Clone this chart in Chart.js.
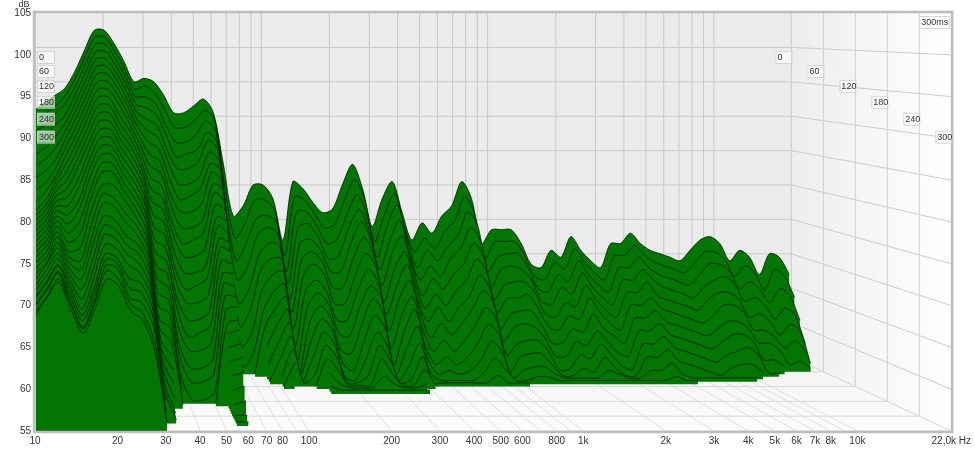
<!DOCTYPE html>
<html>
<head>
<meta charset="utf-8">
<title>Waterfall</title>
<script src="https://cdn.jsdelivr.net/npm/chart.js@4"></script>
<style>
  html, body { margin: 0; padding: 0; background: #fff; }
  canvas { display: block; }
</style>
</head>
<body>
<canvas id="chart" width="975" height="450"></canvas>
<script>
const _ = null

const xTicks = [10, 20, 30, 40, 50, 60, 70, 80, 100, 200, 300, 400, 500, 600, 800, 1000, 2000, 3000, 4000, 5000, 6000, 7000, 8000, 10000, 22000]
const xTickLabels = ["10", "20", "30", "40", "50", "60", "70", "80", "100", "200", "300", "400", "500", "600", "800", "1k", "2k", "3k", "4k", "5k", "6k", "7k", "8k", "10k", "22,0k Hz"]
const backGrid = [10, 20, 30, 40, 50, 60, 70, 80, 90, 100, 200, 300, 400, 500, 600, 700, 800, 900, 1000, 2000, 3000, 4000, 5000, 6000, 7000, 8000, 9000, 10000]
const dbLines = [100, 95, 90, 85, 80, 75, 70, 65, 60]
const timeLabels = [0, 60, 120, 180, 240, 300]

const freqs = [10, 11.1, 12.2, 13.5, 15, 16.5, 18.3, 20.2, 22.4, 24.7,
  27.4, 30.3, 33.5, 37.1, 41, 45.4, 50.2, 55.5, 61.4, 68,
  75.2, 83.2, 92, 101.8, 112.6, 124.6, 137.8, 152.5, 168.7, 186.6,
  206, 228, 253, 280, 309, 342, 379, 419, 463, 513,
  567, 627, 694, 768, 849, 940, 1040, 1150, 1272, 1407,
  1557, 1722, 1905, 2108, 2332, 2580, 2854, 3157, 3493, 3864,
  4275, 4729, 5232, 5788, 6403, 7084, 7837, 8670, 9591, 10611,
  11739, 12987, 14367, 15894, 17583, 19452, 21520]

const times = [0, 10, 20, 30, 40, 50, 60, 70, 80, 90, 100, 110, 120, 130, 140, 150, 160, 170, 180, 190, 200, 210, 220, 230, 240, 250, 260, 270, 280, 290, 300]

// dB per frequency, one list per time slice
const s000 = [91, 92, 93, 94, 96.5, 99.5, 102.5, 102.5, 100.5, 98, 95, 95.5, 95, 93, 90.5, 90.5, 91.5, 92.5, 90.5, 83, 75.5, 77, 80, 80, 78, 72, 80.5, 79.5, 77.5, 76, 76.5, 80, 83, 79.5, 74, 78, 80.5, 76, 72, 74.5, 73, 75.5, 77, 80.5, 78, 71.5, 73.5, 73.5, 73.5, 71.5, 68.5, 68, 70.5, 69.5, 72.5, 70.5, 69, 68, 71.5, 71.5, 73, 71.5, 70.5, 70, 69.5, 69, 70.5, 72, 72.5, 71.5, 69, 70.5, 69.5, 67, 70, 69.5, 67]
const s010 = [89.5, 90.5, 91.5, 93, 95.5, 98.5, 101.5, 101.5, 99.5, 97, 94, 94.5, 93.5, 91, 88.5, 88.5, 89.5, 91, 89.5, 80, 72.5, 74.5, 78, 78, 76.5, 70, 78.5, 78, 76, 74, 74.5, 78, 81, 78, 72, 76, 79, 74, 70.5, 72.5, 71, 73.5, 75, 78.5, 76, 69.5, 72, 72, 72, 70, 67, 66.5, 69, 68, 71, 69, 67.5, 66.5, 70, 70, 71.5, 70, 69, 68.5, 68, 67.5, 69, 70.5, 70.5, 69.5, 67, 68.5, 67.5, 65, 68, 67, 64]
const s020 = [88, 89, 90.5, 92, 94.5, 97.5, 100.5, 100.5, 98.5, 96, 93, 93, 92, 89, 86.5, 86.5, 87.5, 89.5, 88, 77, 69.5, 72, 75.5, 76, 75, 68, 76.5, 76.5, 74.5, 72, 72.5, 76, 79, 76, 70, 74.5, 77.5, 72.5, 68.5, 71, 69.5, 71.5, 73, 76.5, 74.5, 68, 70, 70.5, 70.5, 68.5, 65.5, 65, 67.5, 66.5, 69.5, 67.5, 66, 65, 68.5, 68.5, 70, 68.5, 67.5, 67, 66.5, 66, 67.5, 69, 69, 68, 65.5, 66.5, 65.5, 63.5, 65.5, 64.5, 61]
const s030 = [86.5, 87.5, 89, 90.5, 93.5, 96.5, 99.5, 99.5, 97.5, 95, 92, 91.5, 90.5, 87.5, 84.5, 85, 85.5, 88, 86.5, 74.5, 67, 69, 73.5, 74.5, 73.5, 66.5, 74.5, 75, 73, 70, 70.5, 74.5, 77, 74, 68.5, 72.5, 75.5, 70.5, 67, 69, 67.5, 70, 71.5, 74.5, 72.5, 66, 68.5, 69, 68.5, 67, 64, 63.5, 66, 65, 68, 66, 64.5, 63.5, 67, 67, 68.5, 67, 66, 65.5, 65, 64.5, 66, 67, 67.5, 66.5, 64, 64.5, 63.5, 61.5, 63, 62, 58]
const s040 = [85, 86, 87.5, 89.5, 92.5, 95.5, 98.5, 98.5, 96.5, 94, 91, 90, 89, 85.5, 83, 83, 84, 87, 85.5, 71.5, 64, 66, 71, 72.5, 72, 64.5, 72.5, 73, 71.5, 68.5, 68.5, 72.5, 75.5, 72.5, 66.5, 71, 73.5, 69, 65, 67.5, 66, 68, 69.5, 72.5, 70.5, 64.5, 66.5, 67, 67, 65.5, 62.5, 62, 64, 63.5, 66.5, 64.5, 63, 62, 65.5, 65.5, 67, 65, 64.5, 64, 63.5, 63, 64.5, 65.5, 65.5, 64.5, 62, 62.5, 61.5, 59.5, 61, 60, 55.5]
const s050 = [83.5, 84.5, 86, 88.5, 91.5, 94.5, 97.5, 97.5, 95.5, 93, 90, 88.5, 87.5, 84, 81, 81, 82, 85.5, 84, 69, 61, 63.5, 69, 70.5, 70.5, 63, 70.5, 71.5, 70, 66.5, 66.5, 70.5, 73.5, 71, 64.5, 69, 71.5, 67, 63.5, 65.5, 64, 66, 67.5, 70.5, 68.5, 63, 65, 65, 65.5, 63.5, 61, 60.5, 62.5, 62, 65, 63, 61.5, 60.5, 64, 64, 65, 63.5, 63, 62.5, 62, 61.5, 62.5, 64, 64, 63, 60.5, 60.5, 59.5, 58, 59, 57.5]
const s060 = [82, 83, 84.5, 87.5, 90.5, 93.5, 96.5, 96.5, 94.5, 92, 89, 87, 86, 82, 79, 79.5, 80.5, 84, 83, 66, 58.5, 60.5, 66.5, 68.5, 69, 61, 68.5, 70, 68.5, 64.5, 64.5, 68.5, 71.5, 69.5, 63, 67, 70, 65, 62, 64, 62, 64, 65.5, 68.5, 66.5, 61, 63, 63.5, 63.5, 61.5, 59, 59, 61, 60.5, 63, 61, 60, 59, 62.5, 62.5, 63.5, 62, 61.5, 61, 60.5, 60, 61, 62, 62, 61, 59, 59, 58, 56, 56.5, 55.5]
const s070 = [80.5, 81.5, 83.5, 86.5, 89.5, 92.5, 95.5, 95.5, 93.5, 91, 88, 85.5, 84.5, 80, 77.5, 77.5, 78.5, 83, 81.5, 63.5, 56, 58, 64, 66.5, 67.5, 59, 66.5, 68, 66.5, 62.5, 62.5, 66.5, 69.5, 67.5, 61, 65.5, 68, 63.5, 60, 62, 60.5, 62, 64, 66.5, 65, 59.5, 61.5, 62, 61.5, 60, 57.5, 57.5, 59.5, 59, 61, 59.5, 58, 57.5, 61, 61, 62, 60.5, 60, 59.5, 59, 58.5, 59.5, 60.5, 60.5, 59.5, 57, 57, 56]
const s080 = [79, 80.5, 82.5, 85.5, 88.5, 91.5, 94.5, 94.5, 92.5, 90, 87, 84, 83, 78.5, 75.5, 75.5, 76.5, 81.5, 80.5, 60.5, _, 55.5, 62, 64.5, 66, 57, 64.5, 66.5, 65, 61, 60.5, 64.5, 67.5, 66, 59, 63.5, 66, 61.5, 58.5, 60, 58.5, 60, 62, 64.5, 63, 58, 59.5, 60, 60, 58.5, 56, 56, 58, 57.5, 59.5, 58, 56.5, 56, 59.5, 59.5, 60.5, 59, 58.5, 58, 57.5, 57, 58, 58.5, 59, 58, 55.5, 55.5]
const s090 = [78, 79.5, 82, 84.5, 87.5, 90.5, 93.5, 93.5, 91, 89, 86, 82.5, 81.5, 76.5, 73.5, 74, 75, 80.5, 79, 58, _, _, 59.5, 62.5, 64.5, 55.5, 62.5, 65, 63.5, 59, 58.5, 62.5, 66, 64, 57, 61.5, 64.5, 59.5, 57, 58, 57, 58, 60, 62.5, 61, 56, 58, 58.5, 58.5, 57, 55.5, 55.5, 56.5, 56, 58, 56.5, 55.5, 55.5, 58, 58, 59, 57.5, 57, 56.5, 56, 55.5, 56.5, 57, 57, 56]
const s100 = [77.5, 79, 81.5, 83.5, 86.5, 89.5, 92.5, 92.5, 90, 88, 85, 81, 80, 75, 72, 72, 73, 79, 78, 55.5, _, _, 57.5, 60.5, 63, 56, 60.5, 63.5, 62, 57.5, 56.5, 60.5, 64, 62, 56, 59.5, 62.5, 58, 56, 56.5, 56, 56.5, 58, 60.5, 59, 55.5, 56.5, 57, 57, 56, 55.5, 55.5, 55.5, 55.5, 56.5, 56, 55.5, 55.5, 56.5, 56.5, 57.5, 56, 55.5, 55.5, 55.5, 55.5, 55.5, 55.5, 55.5]
const s110 = [77, 78.5, 81, 82.5, 85.5, 88.5, 91.5, 91.5, 89, 87, 84, 79.5, 78.5, 73, 70, 70, 71, 77.5, 77, _, _, _, 55.5, 58.5, 61.5, 55.5, 58.5, 62, 60.5, 56, 55.5, 58.5, 62, 60, 55.5, 57.5, 60.5, 56.5, 55.5, 55.5, 55.5, 55.5, 56.5, 58.5, 57, 55.5, 55.5, 56, 56, 55.5, 55.5, 55.5, 55.5, 55.5, 55.5, 55.5, 55.5, 55.5, 55.5, 55.5, 56, 55.5, 55.5]
const s120 = [76.5, 78, 80.5, 81.5, 84.5, 87.5, 90.5, 90.5, 88, 86, 83, 78, 77, 71, 68, 68.5, 69.5, 76.5, 75.5, _, _, _, _, 56.5, 60, 55.5, 56.5, 60.5, 59, 55.5, 55.5, 56.5, 60.5, 58.5, 55.5, 56, 59, 55.5, 55.5, 55.5, 55.5, 55.5, 55.5, 56.5, 55.5, 55.5, 55.5]
const s130 = [76, 77.5, 80, 80.5, 83, 86.5, 89.5, 89.5, 87, 85, 82, 76.5, 75.5, 69.5, 66.5, 66.5, 67.5, 75, 74.5, _, _, _, _, 55.5, 58.5, _, 55.5, 59, 57.5, 55.5, 55.5, 55.5, 59, 57, 55.5, 55.5, 57.5, 55.5]
const s140 = [75.5, 77, 79.5, 79.5, 82, 85.5, 88.5, 88.5, 86, 84, 81, 75, 74, 67.5, 64.5, 64.5, 65.5, 74, 73.5, _, _, _, _, _, 57, _, _, 57.5, 56, 55.5, 55.5, 55.5, 57, 56, 55.5, 55.5, 56]
const s150 = [75, 76.5, 79, 78.5, 80.5, 84.5, 87.5, 87.5, 85, 83, 80, 73.5, 72.5, 66, 62.5, 63, 64, 72.5, 72, _, _, _, _, _, 55.5, _, _, 56, 55.5, 55.5, 55.5, 55.5, 55.5, 55.5, 55.5, 55.5, 55.5]
const s160 = [74.5, 76, 78.5, 77.5, 79.5, 83.5, 86.5, 86.5, 84, 82, 79, 72, 71, 64, 61, 61, 62, 71, 71]
const s170 = [74, 75.5, 78, 76.5, 78, 82, 85.5, 85.5, 83, 81, 78, 70.5, 69.5, 62, 59, 59, 60, 70, 69.5]
const s180 = [73.5, 75, 77.5, 75.5, 76.5, 81, 84.5, 84.5, 82, 80, 77, 69, 68, 60.5, 57.5, 57.5, 58.5, 68.5, 68.5]
const s190 = [73, 74.5, 77, 74.5, 75, 79.5, 83, 83, 81, 79, 76, 67.5, 66.5, 58.5, 55.5, 55.5, 56.5, 67, 67.5]
const s200 = [72.5, 74, 76.5, 74, 73.5, 78, 82, 81.5, 79.5, 78, 75, 66, 65, 57, _, _, 55.5, 65.5, 66]
const s210 = [72, 73.5, 76, 73.5, 72.5, 76.5, 81, 80.5, 78.5, 77, 74, 65, 63.5, 55.5, _, _, _, 64.5, 65]
const s220 = [71.5, 73.5, 75.5, 73, 71.5, 75.5, 79.5, 79, 77, 76, 73, 64, 62, _, _, _, _, 63, 63.5]
const s230 = [71, 73, 75, 72.5, 70.5, 74, 78.5, 78, 76, 75, 72, 63, 60.5, _, _, _, _, 61.5, 62]
const s240 = [70.5, 72.5, 74.5, 72, 69.5, 73, 77.5, 77, 75, 74, 71, 62, 59, _, _, _, _, 60, 60.5]
const s250 = [70, 72, 74, 71.5, 68.5, 72, 76.5, 76, 74, 73, 70, 61, 57.5, _, _, _, _, 58.5, 59]
const s260 = [70, 72, 74, 71, 68, 71, 75.5, 75, 72.5, 72, 69, 60, 56, _, _, _, _, 57, 57.5]
const s270 = [69.5, 71.5, 73.5, 70.5, 67.5, 70.5, 75, 74.5, 71.5, 71, 68, 59, 55.5, _, _, _, _, 56, 56]
const s280 = [69.5, 71.5, 73.5, 70, 67, 70, 74.5, 74, 70.5, 70, 67, 58, _, _, _, _, _, 55.5, 55.5]
const s290 = [69, 71, 73, 70, 67, 70, 74, 73, 70, 69, 65.5, 57]
const s300 = [68.8, 71, 72.8, 69.5, 66.7, 69.5, 73.2, 72.3, 69.3, 68.3, 64.5, 56]

const slices = [s000, s010, s020, s030, s040, s050, s060, s070, s080, s090, s100, s110, s120, s130, s140, s150,
  s160, s170, s180, s190, s200, s210, s220, s230, s240, s250, s260, s270, s280, s290, s300]

const LAST_MS = 300
const BACK_WIDTH = 762 / 923   // share of the front width the back wall takes up
const BACK_FLOOR = 8.85        // how far up the 55 dB line sits on the back wall, in front dB

// Perspective: every slice gets squeezed towards 10 Hz and 105 dB the further back it is
const depthOf = ms => ms / LAST_MS
const projFreq = (f, depth) => 10 * Math.pow(f / 10, BACK_WIDTH + (1 - BACK_WIDTH) * depth)
const floorDb = depth => 55 + BACK_FLOOR * (1 - depth)
const projDb = (db, depth) => floorDb(depth) + (db - 55) / 50 * (105 - floorDb(depth))

const datasets = slices.map((row, i) => {
  const depth = depthOf(times[i])
  return {
    label: times[i] + " ms",
    data: row.map((db, k) => ({ x: projFreq(freqs[k], depth), y: db === null ? null : projDb(db, depth) })),
    borderColor: "rgba(0, 30, 0, 0.8)",
    backgroundColor: "#027502",
    borderWidth: 1,
    pointRadius: 0,
    tension: 0.3,
    spanGaps: false,
    fill: { value: floorDb(depth) }
  }
}).reverse() // Chart.js paints the first dataset last, the front slice has to win

const roomPlugin = {
  id: "room",
  beforeDatasetsDraw(chart) {
    const { ctx, scales: { x, y } } = chart
    const px = (f, depth) => x.getPixelForValue(projFreq(f, depth))
    const py = (db, depth) => y.getPixelForValue(projDb(db, depth))
    const poly = (pts, fill) => {
      ctx.beginPath()
      pts.forEach((p, i) => i ? ctx.lineTo(p[0], p[1]) : ctx.moveTo(p[0], p[1]))
      ctx.closePath()
      ctx.fillStyle = fill
      ctx.fill()
    }
    const line = (a, b, color) => {
      ctx.beginPath()
      ctx.moveTo(a[0], a[1])
      ctx.lineTo(b[0], b[1])
      ctx.strokeStyle = color
      ctx.stroke()
    }
    const xEnd = 22000

    ctx.save()
    ctx.lineWidth = 1

    // back wall, right wall, floor
    poly([[px(10, 0), py(105, 0)], [px(xEnd, 0), py(105, 0)], [px(xEnd, 0), py(55, 0)], [px(10, 0), py(55, 0)]], "#ebebeb")
    const wall = ctx.createLinearGradient(px(xEnd, 0), 0, px(xEnd, 1), 0)
    wall.addColorStop(0, "#ededed")
    wall.addColorStop(1, "#ffffff")
    poly([[px(xEnd, 0), py(105, 0)], [px(xEnd, 1), py(105, 1)], [px(xEnd, 1), py(55, 1)], [px(xEnd, 0), py(55, 0)]], wall)
    const floor = ctx.createLinearGradient(0, py(55, 0), 0, py(55, 1))
    floor.addColorStop(0, "#f3f3f3")
    floor.addColorStop(1, "#fcfcfc")
    poly([[px(10, 0), py(55, 0)], [px(xEnd, 0), py(55, 0)], [px(xEnd, 1), py(55, 1)], [px(10, 1), py(55, 1)]], floor)

    backGrid.forEach(f => {
      line([px(f, 0), py(105, 0)], [px(f, 0), py(55, 0)], "#c8c8c8")
      line([px(f, 0), py(55, 0)], [px(f, 1), py(55, 1)], "#e0e0e0")
    })
    line([px(xEnd, 0), py(105, 0)], [px(xEnd, 0), py(55, 0)], "#c8c8c8")
    line([px(xEnd, 0), py(55, 0)], [px(xEnd, 1), py(55, 1)], "#d4d4d4")

    dbLines.forEach(db => {
      line([px(10, 0), py(db, 0)], [px(xEnd, 0), py(db, 0)], "#c8c8c8")
      line([px(xEnd, 0), py(db, 0)], [px(xEnd, 1), py(db, 1)], "#cccccc")
    })

    timeLabels.forEach(ms => {
      const depth = depthOf(ms)
      line([px(xEnd, depth), py(105, depth)], [px(xEnd, depth), py(55, depth)], "#d0d0d0")
      line([px(10, depth), py(55, depth)], [px(xEnd, depth), py(55, depth)], "#d8d8d8")
    })
    ctx.restore()
  },
  afterDatasetsDraw(chart) {
    const { ctx, chartArea: a, scales: { x, y } } = chart
    ctx.save()

    // frame, heavier on the left like the wall seen edge-on
    ctx.strokeStyle = "#bdbdbd"
    ctx.lineWidth = 2.5
    ctx.strokeRect(a.left - 1, a.top - 1, a.right - a.left + 2, a.bottom - a.top + 2)
    ctx.fillStyle = "#c2c2c2"
    ctx.fillRect(a.left - 2, a.top, 3, a.bottom - a.top)

    ctx.font = "9px 'Liberation Sans', sans-serif"
    ctx.textBaseline = "middle"
    const box = (text, left, mid, w) => {
      ctx.fillStyle = "rgba(255, 255, 255, 0.62)"
      ctx.fillRect(left, mid - 6, w, 12)
      ctx.strokeStyle = "rgba(205, 205, 205, 0.8)"
      ctx.lineWidth = 1
      ctx.strokeRect(left + 0.5, mid - 5.5, w, 12)
      ctx.fillStyle = "#333"
      ctx.textAlign = "left"
      ctx.fillText(text, left + 2, mid + 0.5)
    }
    timeLabels.forEach(ms => {
      const depth = depthOf(ms)
      const mid = y.getPixelForValue(projDb(98.6 - 8.4 * depth, depth))
      box(String(ms), a.left + 2, mid, 17)
      box(String(ms), x.getPixelForValue(projFreq(22000, depth)) - 16, mid, 16)
    })
    box("300ms", a.right - 32, a.top + 9, 30)

    ctx.fillStyle = "#333"
    ctx.textAlign = "center"
    ctx.font = "9px 'Liberation Sans', sans-serif"
    ctx.fillText("dB", 24, 5)
    ctx.restore()
  }
}

new Chart(document.getElementById("chart"), {
  type: "line",
  data: { datasets },
  plugins: [roomPlugin],
  options: {
    responsive: false,
    animation: false,
    parsing: true,
    layout: { padding: { top: 13, right: 17, left: 0, bottom: 0 } },
    scales: {
      x: {
        type: "logarithmic",
        min: 10,
        max: 22000,
        grid: { display: false, tickLength: 0 },
        border: { display: false },
        afterFit: s => { s.height = 19 },
        afterBuildTicks: s => { s.ticks = xTicks.map(value => ({ value, major: true })) },
        ticks: {
          autoSkip: false,
          maxRotation: 0,
          minRotation: 0,
          padding: 4,
          color: "#333",
          font: { family: "'Liberation Sans', sans-serif", size: 10 },
          callback: (v, i) => xTickLabels[i]
        }
      },
      y: {
        type: "linear",
        min: 55,
        max: 105,
        grid: { display: false, tickLength: 0 },
        border: { display: false },
        afterFit: s => { s.width = 35 },
        ticks: {
          stepSize: 5,
          padding: 4,
          color: "#333",
          font: { family: "'Liberation Sans', sans-serif", size: 10 }
        }
      }
    },
    plugins: {
      legend: { display: false },
      tooltip: { enabled: false }
    }
  }
})
</script>
</body>
</html>
